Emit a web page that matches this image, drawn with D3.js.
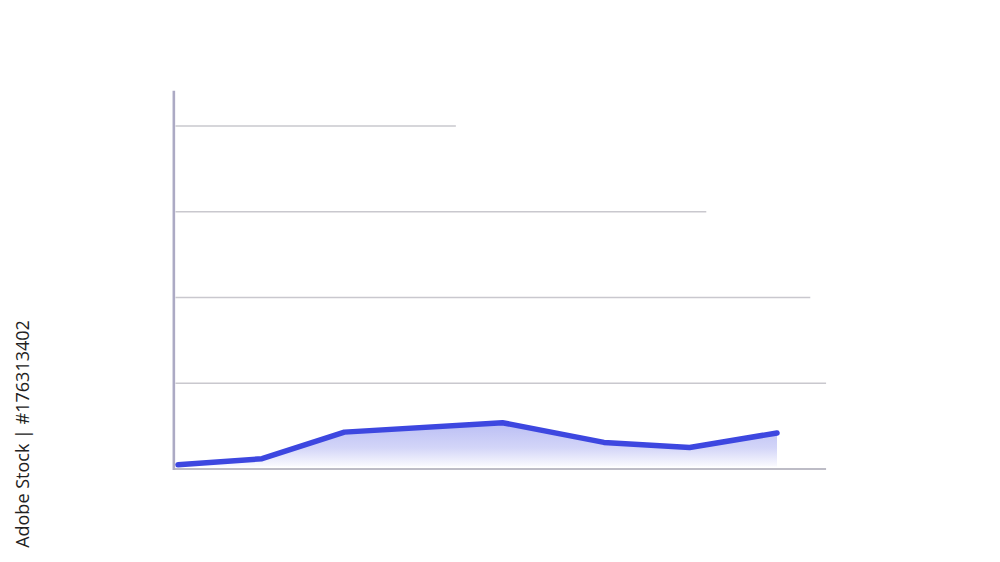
<!DOCTYPE html>
<html>
<head>
<meta charset="utf-8">
<script src="https://cdn.jsdelivr.net/npm/d3@7"></script>
<style>
  html, body { margin: 0; padding: 0; background: #fff; }
  svg { display: block; }
</style>
</head>
<body>
<svg id="chart" width="1000" height="562"></svg>
<script>
// points along the time axis (uneven spacing)
var xVals = [0, 1.01, 2.0, 3.9, 5.12, 6.15, 7.2];
var yVals = [0.05, 0.12, 0.43, 0.54, 0.31, 0.25, 0.42];
// horizontal guide lines and how far each one is drawn
var gridVals = [1, 2, 3, 4];
var gridEnds = [7.79, 7.6, 6.35, 3.34];
var sideLabel = "Adobe Stock | #176313402";

var svg = d3.select("#chart");

var x = d3.scaleLinear().domain([0, 7.2]).range([178, 777]);
var y = d3.scaleLinear().domain([0, 4]).range([469, 126]);

var defs = svg.append("defs");
var grad = defs
  .append("linearGradient")
  .attr("id", "areaFill")
  .attr("gradientUnits", "userSpaceOnUse")
  .attr("x1", 0)
  .attr("x2", 0)
  .attr("y1", y(0.55))
  .attr("y2", y(0));
grad.append("stop").attr("offset", "0%").attr("stop-color", "#b9bdf4");
grad.append("stop").attr("offset", "55%").attr("stop-color", "#d3d5f8");
grad.append("stop").attr("offset", "100%").attr("stop-color", "#ffffff");

// grid lines
svg
  .append("g")
  .attr("class", "grid")
  .selectAll("line")
  .data(gridVals)
  .enter()
  .append("line")
  .attr("x1", x(-0.03))
  .attr("x2", function(d, i) {
    return x(gridEnds[i]);
  })
  .attr("y1", function(d) {
    return y(d);
  })
  .attr("y2", function(d) {
    return y(d);
  })
  .attr("stroke", "#c9c8ce")
  .attr("stroke-width", 1.4);

var data = xVals.map(function(v, i) {
  return [v, yVals[i]];
});

// area under the line
var area = d3
  .area()
  .x(function(d) {
    return x(d[0]);
  })
  .y0(y(0.03))
  .y1(function(d) {
    return y(d[1]);
  });

svg
  .append("path")
  .datum(data)
  .attr("d", area)
  .attr("fill", "url(#areaFill)");

// axes
svg
  .append("line")
  .attr("x1", x(-0.05))
  .attr("x2", x(7.79))
  .attr("y1", y(0))
  .attr("y2", y(0))
  .attr("stroke", "#bdbcc6")
  .attr("stroke-width", 2.2);

svg
  .append("line")
  .attr("x1", x(-0.05))
  .attr("x2", x(-0.05))
  .attr("y1", y(0) + 1)
  .attr("y2", y(4.41))
  .attr("stroke", "#acaac4")
  .attr("stroke-width", 2.6);

// the line itself
var line = d3
  .line()
  .x(function(d) {
    return x(d[0]);
  })
  .y(function(d) {
    return y(d[1]);
  });

svg
  .append("path")
  .datum(data)
  .attr("d", line)
  .attr("fill", "none")
  .attr("stroke", "#3d47e0")
  .attr("stroke-width", 5.5)
  .attr("stroke-linecap", "round")
  .attr("stroke-linejoin", "round");

// vertical side label
svg
  .append("text")
  .attr("transform", "translate(29,434) rotate(-90)")
  .attr("text-anchor", "middle")
  .attr("font-family", "'Open Sans', 'Noto Sans', sans-serif")
  .attr("font-size", "18px")
  .attr("font-weight", 500)
  .attr("fill", "#222")
  .text(sideLabel);
</script>
</body>
</html>
